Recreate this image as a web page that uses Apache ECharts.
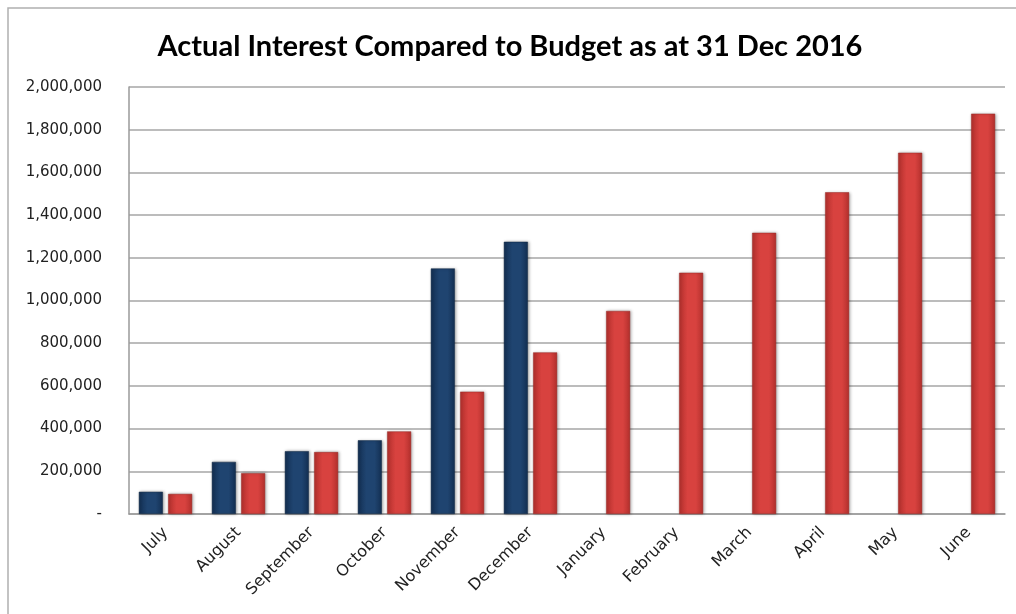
<!DOCTYPE html>
<html>
<head>
<meta charset="utf-8">
<script src="https://cdn.jsdelivr.net/npm/echarts@6/dist/echarts.min.js"></script>
<style>
  html, body { margin: 0; padding: 0; background: #fff; }
  #main { width: 1016px; height: 614px; }
</style>
</head>
<body>
<div id="main"></div>
<script>
const months = ['July', 'August', 'September', 'October', 'November', 'December',
  'January', 'February', 'March', 'April', 'May', 'June'];
const actual = [104000, 244000, 294000, 345000, 1150000, 1275000, null, null, null, null, null, null];
const budget = [94000, 191000, 290000, 387000, 573000, 757000, 951000, 1130000, 1317000, 1507000, 1692000, 1875000];

const chart = echarts.init(document.getElementById('main'));

function barGradient(dark, light) {
  return new echarts.graphic.LinearGradient(0, 0, 1, 0, [
    { offset: 0, color: dark },
    { offset: 0.35, color: light },
    { offset: 0.7, color: light },
    { offset: 1, color: dark }
  ]);
}

const option = {
  backgroundColor: '#fff',
  animation: false,
  title: {
    text: 'Actual Interest Compared to Budget as at 31 Dec 2016',
    left: 505,
    textAlign: 'center',
    top: 27,
    textStyle: { fontFamily: 'Lato', fontWeight: 'bold', fontSize: 29, color: '#000' }
  },
  graphic: [{
    type: 'rect',
    shape: { x: 8, y: 8, width: 1030, height: 640 },
    style: { fill: 'none', stroke: '#b0b0b0', lineWidth: 1.5 },
    silent: true
  }],
  grid: { left: 129, right: 11, top: 87, bottom: 100 },
  xAxis: {
    type: 'category',
    data: months,
    axisLine: { lineStyle: { color: '#9a9a9a', width: 1.5 } },
    axisTick: { show: false },
    axisLabel: {
      rotate: 45,
      margin: 16,
      fontFamily: 'DejaVu Sans',
      fontSize: 16,
      color: '#222'
    }
  },
  yAxis: {
    type: 'value',
    min: 0,
    max: 2000000,
    interval: 200000,
    axisLine: { show: true, lineStyle: { color: '#9a9a9a', width: 1.5 } },
    axisTick: { show: false },
    splitLine: { lineStyle: { color: '#a6a6a6', width: 1.5 } },
    axisLabel: {
      margin: 27,
      fontFamily: 'DejaVu Sans',
      fontSize: 15,
      color: '#222',
      formatter: v => v === 0 ? '-' : v.toLocaleString('en-US')
    }
  },
  series: [
    {
      name: 'Actual',
      type: 'bar',
      data: actual,
      barWidth: 24,
      barGap: '22%',
      itemStyle: {
        color: barGradient('#132f52', '#1f4470'),
        borderColor: '#0f2642',
        borderWidth: 0.5,
        shadowBlur: 3,
        shadowOffsetX: 1,
        shadowColor: 'rgba(0,0,0,0.3)'
      }
    },
    {
      name: 'Budget',
      type: 'bar',
      data: budget,
      barWidth: 24,
      itemStyle: {
        color: barGradient('#b3302d', '#d8423f'),
        borderColor: '#9c2a27',
        borderWidth: 0.5,
        shadowBlur: 3,
        shadowOffsetX: 1,
        shadowColor: 'rgba(0,0,0,0.3)'
      }
    }
  ]
};

chart.setOption(option);
</script>
</body>
</html>
